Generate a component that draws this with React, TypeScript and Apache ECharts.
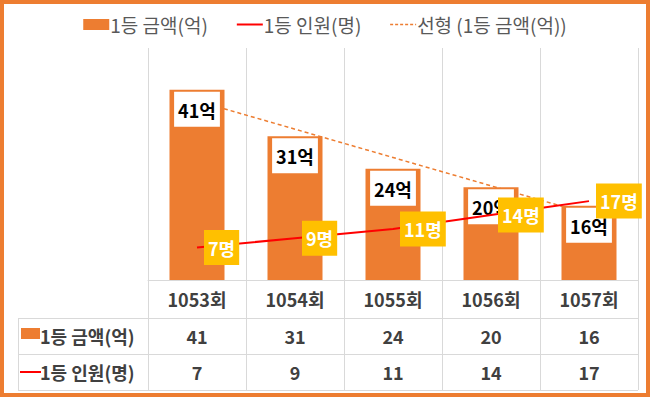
import React, { useEffect, useRef } from "react";
import * as echarts from "echarts";

const categories = ["1053회", "1054회", "1055회", "1056회", "1057회"];
const amounts = [41, 31, 24, 20, 16];
const winners = [7, 9, 11, 14, 17];
// linear trendline end points: [category index, value]
const trendPoints = [
  [0, 38.6],
  [4, 14.2],
];
const seriesNames = ["1등 금액(억)", "1등 인원(명)", "선형 (1등 금액(억))"];
const amountUnit = "억";
const winnerUnit = "명";

const ORANGE = "#ED7D31";
const RED = "#FF0000";
const YELLOW = "#FFC000";
const GRID = "#D9D9D9";
const TEXT = "#404040";
const FONT = "'Noto Sans CJK KR', 'Noto Sans', sans-serif";

export default function App() {
  const ref = useRef<HTMLDivElement>(null);

  useEffect(() => {
    if (!ref.current) return;
    const chart = echarts.init(ref.current, null, { renderer: "svg" });
    const rowText = {
      fontFamily: FONT,
      fontSize: 18,
      fontWeight: "bold",
      fill: TEXT,
      verticalAlign: "middle",
      align: "left",
    };
    const hiddenSymbol = { color: "rgba(0,0,0,0)", borderColor: "rgba(0,0,0,0)", borderWidth: 0 };
    chart.setOption({
      animation: false,
      backgroundColor: "#fff",
      textStyle: { fontFamily: FONT },
      legend: {
        top: 10,
        left: "center",
        itemWidth: 26,
        itemHeight: 11,
        itemGap: 28,
        textStyle: { fontSize: 19, color: "#595959", fontFamily: FONT, padding: [0, 0, 0, -4] },
        data: [
          { name: seriesNames[0], icon: "rect" },
          {
            name: seriesNames[1],
            itemStyle: hiddenSymbol,
            lineStyle: { color: RED, width: 2, type: "solid" },
          },
          {
            name: seriesNames[2],
            itemStyle: hiddenSymbol,
            lineStyle: { color: ORANGE, width: 1.5, type: [3, 2] },
          },
        ],
      },
      grid: { left: 148, right: 12, top: 48, bottom: 117 },
      xAxis: {
        type: "category",
        data: categories,
        boundaryGap: true,
        axisLine: { show: true, lineStyle: { color: GRID, width: 1 } },
        axisTick: { show: true, length: 110, lineStyle: { color: GRID, width: 1 } },
        splitLine: { show: true, lineStyle: { color: GRID, width: 1 } },
        axisLabel: {
          interval: 0,
          margin: 1,
          formatter: (value: string, index: number) =>
            `{h|${value}}\n{v|${amounts[index]}}\n{v|${winners[index]}}`,
          rich: {
            h: { fontFamily: FONT, fontSize: 18, fontWeight: "bold", color: TEXT, lineHeight: 36.5 },
            v: { fontFamily: FONT, fontSize: 18, fontWeight: "bold", color: TEXT, lineHeight: 36.5 },
          },
        },
      },
      yAxis: {
        type: "value",
        min: 0,
        max: 50,
        show: false,
        splitLine: { show: false },
      },
      series: [
        {
          name: seriesNames[2],
          type: "line",
          z: 1,
          data: trendPoints,
          symbol: "none",
          lineStyle: { color: ORANGE, width: 1.5, type: [4, 3] },
          itemStyle: { color: ORANGE },
        },
        {
          name: seriesNames[0],
          type: "bar",
          z: 2,
          data: amounts,
          barWidth: 55,
          itemStyle: { color: ORANGE },
          label: {
            show: true,
            position: "insideTop",
            distance: 2,
            formatter: (p: any) => `${p.value}${amountUnit}`,
            backgroundColor: "#fff",
            color: "#000",
            fontFamily: FONT,
            fontSize: 18,
            fontWeight: "bold",
            padding: [9, 4, 8, 4],
          },
        },
        {
          name: seriesNames[1],
          type: "line",
          z: 3,
          data: winners,
          symbol: "circle",
          symbolSize: 0,
          showSymbol: true,
          lineStyle: { color: RED, width: 2 },
          itemStyle: { color: RED },
          label: {
            show: true,
            position: "right",
            distance: 7,
            formatter: (p: any) => `${p.value}${winnerUnit}`,
            backgroundColor: YELLOW,
            color: "#fff",
            fontFamily: FONT,
            fontSize: 18,
            fontWeight: "bold",
            padding: [9, 4, 8, 4],
          },
        },
      ],
      graphic: [
        { type: "line", shape: { x1: 18, y1: 318.5, x2: 638, y2: 318.5 }, style: { stroke: GRID, lineWidth: 1 } },
        { type: "line", shape: { x1: 18, y1: 354.5, x2: 638, y2: 354.5 }, style: { stroke: GRID, lineWidth: 1 } },
        { type: "line", shape: { x1: 18, y1: 390.5, x2: 638, y2: 390.5 }, style: { stroke: GRID, lineWidth: 1 } },
        { type: "line", shape: { x1: 18.5, y1: 318, x2: 18.5, y2: 391 }, style: { stroke: GRID, lineWidth: 1 } },
        { type: "rect", shape: { x: 21, y: 328, width: 19, height: 11 }, style: { fill: ORANGE } },
        { type: "text", x: 40, y: 336, style: { ...rowText, text: seriesNames[0] } },
        { type: "line", shape: { x1: 20, y1: 372, x2: 41, y2: 372 }, style: { stroke: RED, lineWidth: 2 } },
        { type: "text", x: 40, y: 372, style: { ...rowText, text: seriesNames[1] } },
      ],
    });
    return () => chart.dispose();
  }, []);

  return (
    <div style={{ position: "fixed", left: 0, top: 0, width: 650, height: 397 }}>
      <div ref={ref} style={{ position: "absolute", left: 0, top: 0, width: 650, height: 397 }} />
      <div
        style={{
          position: "absolute",
          left: 0,
          top: 0,
          width: 650,
          height: 397,
          boxSizing: "border-box",
          border: `4px solid ${ORANGE}`,
          pointerEvents: "none",
        }}
      />
    </div>
  );
}
